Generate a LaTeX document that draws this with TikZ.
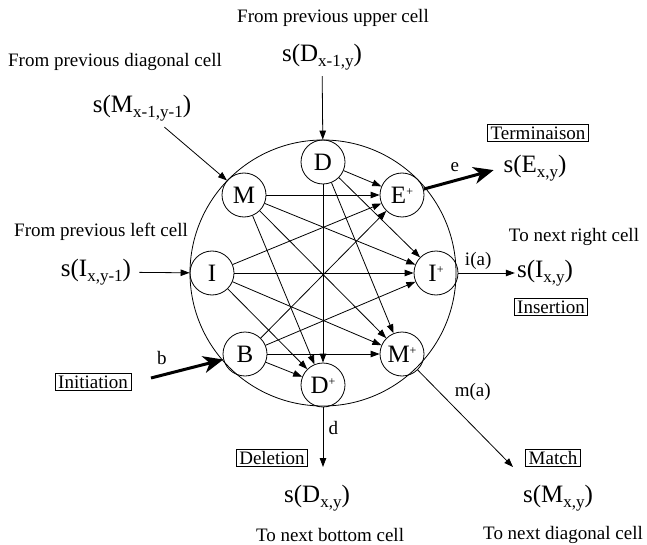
\documentclass[tikz,border=0pt]{standalone}
\usepackage{fontspec}
\setmainfont{Liberation Serif}
\usepackage{tikz}
\usetikzlibrary{arrows.meta}

\newcommand\lowsub[1]{\raisebox{-5pt}{\fontsize{17}{17}\selectfont #1}}
\newcommand\highsup[1]{\raisebox{8pt}{\fontsize{12}{12}\selectfont #1}}

\begin{document}
\begin{tikzpicture}[
    x=1pt, y=-1pt,
    every node/.style={font=\fontsize{19}{22}\selectfont},
    cell/.style={draw, circle, line width=0.8pt, minimum size=44pt, inner sep=0pt,
                 font=\fontsize{25}{28}\selectfont},
    score/.style={inner sep=2pt, font=\fontsize{25}{28}\selectfont},
    tag/.style={draw, line width=0.6pt, inner xsep=3pt, inner ysep=2pt,
                text height=13pt, text depth=0pt},
    arrow/.style={-{Triangle[length=9pt,width=6.5pt]}, line width=0.8pt},
    bigarrow/.style={-{Stealth[length=20pt,width=17pt,inset=6pt]}, line width=3pt}
  ]
    \useasboundingbox (0,0) rectangle (647,545);

    % the cell
    \node[draw, circle, line width=0.8pt, minimum size=266pt] (cellbox) at (323,273) {};

    \node[cell] (D)  at (323,162) {D};
    \node[cell] (M)  at (244,195) {M};
    \node[cell] (I)  at (212,273) {I};
    \node[cell] (B)  at (245,354) {B};
    \node[cell] (Ep) at (402,195) {E\highsup{+}};
    \node[cell] (Ip) at (436,273) {I\highsup{+}};
    \node[cell] (Mp) at (402,354) {M\highsup{+}};
    \node[cell] (Dp) at (323,385) {D\highsup{+}};

    \foreach \src in {M,D,I,B}
      \foreach \dst in {Ep,Ip,Mp,Dp}
        \draw[arrow] (\src) -- (\dst);

    % inputs
    \node (upper) at (333,18) {From previous upper cell};
    \node[score] (sDin) at (322,57) {s(D\lowsub{x-1,y})};
    \draw[arrow, shorten <=4pt] (sDin) -- (D);

    \node (diag) at (115,62) {From previous diagonal cell};
    \node[score] (sMin) at (142,108) {s(M\lowsub{x-1,y-1})};
    \draw[arrow, shorten <=6pt] (sMin) -- (M);

    \node (left) at (101,232) {From previous left cell};
    \node[score] (sIin) at (96,272) {s(I\lowsub{x,y-1})};
    \draw[arrow, shorten <=6pt] (sIin) -- (I);

    \node[tag] (init) at (93,382) {Initiation};
    \coordinate (bstart) at (151,378);
    \draw[bigarrow] (bstart) -- node[above=6pt, pos=0.15] (b) {b} (B);

    % outputs
    \node[tag] (term) at (538,133) {Terminaison};
    \node[score] (sE) at (535,168) {s(E\lowsub{x,y})};
    \draw[bigarrow, shorten >=8pt] (Ep) -- node[above=4pt, pos=0.4] (e) {e} (sE.west);

    \node (right) at (574,237) {To next right cell};
    \node[score] (sI) at (545,273) {s(I\lowsub{x,y})};
    \draw[arrow] (Ip) -- node[above, pos=0.35] (ia) {i(a)} (sI.west);
    \node[tag] (ins) at (551,307) {Insertion};

    \coordinate (dend) at (323,467);
    \draw[arrow] (Dp) -- node[right=2pt, pos=0.35] (d) {d} (dend);
    \node[tag] (del) at (272,458) {Deletion};
    \node[score] (sD) at (317,498) {s(D\lowsub{x,y})};
    \node (bottom) at (330,535) {To next bottom cell};

    \coordinate (mend) at (513,467);
    \draw[arrow] (Mp) -- node[above right, pos=0.35] (ma) {m(a)} (mend);
    \node[tag] (match) at (553,458) {Match};
    \node[score] (sM) at (558,498) {s(M\lowsub{x,y})};
    \node (diagout) at (563,535) {To next diagonal cell};
  \end{tikzpicture}
\end{document}
